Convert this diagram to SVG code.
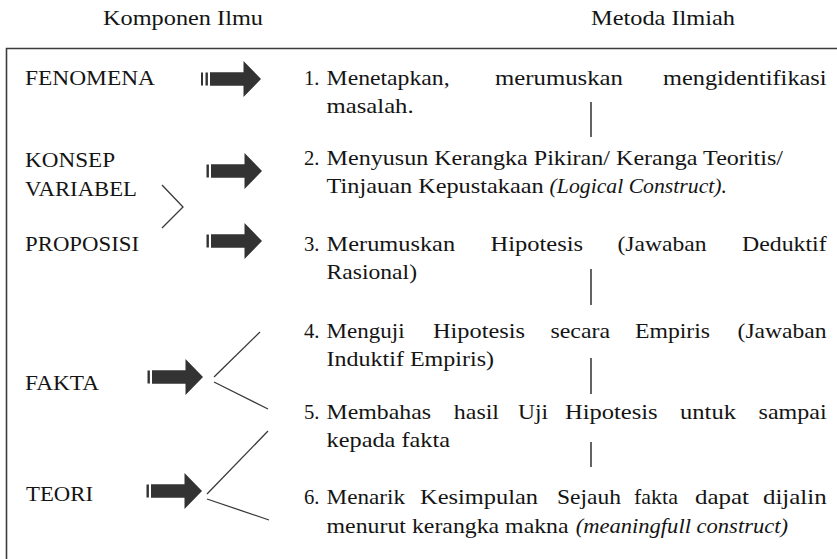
<svg xmlns="http://www.w3.org/2000/svg" width="837" height="559" viewBox="0 0 837 559" font-family="'Liberation Serif', 'DejaVu Serif', serif" font-size="22">
<style>
  text { font-family: "Liberation Serif", "Times New Roman", serif; font-size: 22px; fill: #141414; }
  .it { font-style: italic; }
  .ln { stroke: #3a3a3a; stroke-width: 1.3; fill: none; }
  .vl { stroke: #222; stroke-width: 1.4; }
  .box { stroke: #3c3c3c; stroke-width: 1.6; fill: none; }
</style>
<defs>
  <g id="arrow">
    <rect x="-55.5" y="-6.5" width="2.4" height="13" fill="#333"/>
    <path d="M-51,-6.8 H-17.5 V-18 L0,0 L-17.5,18 V6.8 H-51 Z" fill="#333"/>
  </g>
</defs>
<rect width="837" height="559" fill="#fff"/>
<g id="headers" font-family="Liberation Serif, serif">
  <text x="103" y="25" textLength="160" lengthAdjust="spacingAndGlyphs">Komponen Ilmu</text>
  <text x="591" y="25" textLength="144" lengthAdjust="spacingAndGlyphs">Metoda Ilmiah</text>
</g>
<path class="box" d="M838,48.5 H6.5 V560"/>
<g id="fenomena"><text x="25" y="84.5" textLength="130" lengthAdjust="spacingAndGlyphs">FENOMENA</text></g>
<g id="konsep"><text x="25" y="167" textLength="90" lengthAdjust="spacingAndGlyphs">KONSEP</text></g>
<g id="variabel"><text x="25" y="195.5" textLength="112" lengthAdjust="spacingAndGlyphs">VARIABEL</text></g>
<g id="proposisi"><text x="25" y="251" textLength="114" lengthAdjust="spacingAndGlyphs">PROPOSISI</text></g>
<g id="fakta"><text x="25" y="390" textLength="74" lengthAdjust="spacingAndGlyphs">FAKTA</text></g>
<g id="teori"><text x="26" y="501" textLength="67" lengthAdjust="spacingAndGlyphs">TEORI</text></g>

<g id="step1">
  <text x="304" y="85" textLength="15.5" lengthAdjust="spacingAndGlyphs">1.</text>
  <text x="326.6" y="85" textLength="123" lengthAdjust="spacingAndGlyphs">Menetapkan,</text>
  <text x="495" y="85" textLength="128" lengthAdjust="spacingAndGlyphs">merumuskan</text>
  <text x="663" y="85" textLength="163.6" lengthAdjust="spacingAndGlyphs">mengidentifikasi</text>
  <text x="326.6" y="113" textLength="87" lengthAdjust="spacingAndGlyphs">masalah.</text>
</g>
<g id="step2">
  <text x="304" y="165" textLength="15.5" lengthAdjust="spacingAndGlyphs">2.</text>
  <text x="326.6" y="165" textLength="456.4" lengthAdjust="spacingAndGlyphs">Menyusun Kerangka Pikiran/ Keranga Teoritis/</text>
  <text x="326.6" y="193" textLength="217" lengthAdjust="spacingAndGlyphs">Tinjauan Kepustakaan</text>
  <text class="it" x="549.6" y="193" textLength="177.4" lengthAdjust="spacingAndGlyphs">(Logical Construct).</text>
</g>
<g id="step3">
  <text x="304" y="251" textLength="15.5" lengthAdjust="spacingAndGlyphs">3.</text>
  <text x="326.6" y="251" textLength="128.5" lengthAdjust="spacingAndGlyphs">Merumuskan</text>
  <text x="490.5" y="251" textLength="92.5" lengthAdjust="spacingAndGlyphs">Hipotesis</text>
  <text x="617.5" y="251" textLength="89" lengthAdjust="spacingAndGlyphs">(Jawaban</text>
  <text x="742" y="251" textLength="84.6" lengthAdjust="spacingAndGlyphs">Deduktif</text>
  <text x="326.6" y="279" textLength="90.4" lengthAdjust="spacingAndGlyphs">Rasional)</text>
</g>
<g id="step4">
  <text x="304" y="338" textLength="15.5" lengthAdjust="spacingAndGlyphs">4.</text>
  <text x="326.6" y="338" textLength="78" lengthAdjust="spacingAndGlyphs">Menguji</text>
  <text x="433" y="338" textLength="92" lengthAdjust="spacingAndGlyphs">Hipotesis</text>
  <text x="550.5" y="338" textLength="59.5" lengthAdjust="spacingAndGlyphs">secara</text>
  <text x="635" y="338" textLength="75" lengthAdjust="spacingAndGlyphs">Empiris</text>
  <text x="737.6" y="338" textLength="89" lengthAdjust="spacingAndGlyphs">(Jawaban</text>
  <text x="326.6" y="366" textLength="167.4" lengthAdjust="spacingAndGlyphs">Induktif Empiris)</text>
</g>
<g id="step5">
  <text x="304" y="419" textLength="15.5" lengthAdjust="spacingAndGlyphs">5.</text>
  <text x="326.6" y="419" textLength="104.4" lengthAdjust="spacingAndGlyphs">Membahas</text>
  <text x="453.8" y="419" textLength="45.2" lengthAdjust="spacingAndGlyphs">hasil</text>
  <text x="518" y="419" textLength="30" lengthAdjust="spacingAndGlyphs">Uji</text>
  <text x="565" y="419" textLength="92.6" lengthAdjust="spacingAndGlyphs">Hipotesis</text>
  <text x="680" y="419" textLength="56" lengthAdjust="spacingAndGlyphs">untuk</text>
  <text x="758.6" y="419" textLength="68" lengthAdjust="spacingAndGlyphs">sampai</text>
  <text x="326.6" y="447" textLength="123.4" lengthAdjust="spacingAndGlyphs">kepada fakta</text>
</g>
<g id="step6">
  <text x="304" y="504" textLength="15.5" lengthAdjust="spacingAndGlyphs">6.</text>
  <text x="326.6" y="504" textLength="78.4" lengthAdjust="spacingAndGlyphs">Menarik</text>
  <text x="420" y="504" textLength="118" lengthAdjust="spacingAndGlyphs">Kesimpulan</text>
  <text x="557" y="504" textLength="64" lengthAdjust="spacingAndGlyphs">Sejauh</text>
  <text x="634" y="504" textLength="44" lengthAdjust="spacingAndGlyphs">fakta</text>
  <text x="695" y="504" textLength="54" lengthAdjust="spacingAndGlyphs">dapat</text>
  <text x="763" y="504" textLength="63.6" lengthAdjust="spacingAndGlyphs">dijalin</text>
  <text x="326.6" y="533" textLength="242" lengthAdjust="spacingAndGlyphs">menurut kerangka makna</text>
  <text class="it" x="575.7" y="533" textLength="212.3" lengthAdjust="spacingAndGlyphs">(meaningfull construct)</text>
</g>

<g id="connectors">
  <use href="#arrow" transform="translate(261,79)"/>
  <rect x="201" y="72.5" width="2" height="13" fill="#333"/>
  <use href="#arrow" transform="translate(262,171)"/>
  <use href="#arrow" transform="translate(262,241)"/>
  <use href="#arrow" transform="translate(203,377)"/>
  <use href="#arrow" transform="translate(202,491)"/>
  <polyline class="ln" points="162,185 183,207 162,228"/>
  <line class="ln" x1="214" y1="377" x2="260" y2="332"/>
  <line class="ln" x1="214" y1="382" x2="268" y2="409"/>
  <line class="ln" x1="207" y1="494" x2="268" y2="431"/>
  <line class="ln" x1="207" y1="499" x2="269" y2="520"/>
  <line class="vl" x1="591" y1="102" x2="591" y2="137"/>
  <line class="vl" x1="591" y1="269" x2="591" y2="305"/>
  <line class="vl" x1="591" y1="358" x2="591" y2="394"/>
  <line class="vl" x1="591" y1="442" x2="591" y2="467"/>
</g>
</svg>
